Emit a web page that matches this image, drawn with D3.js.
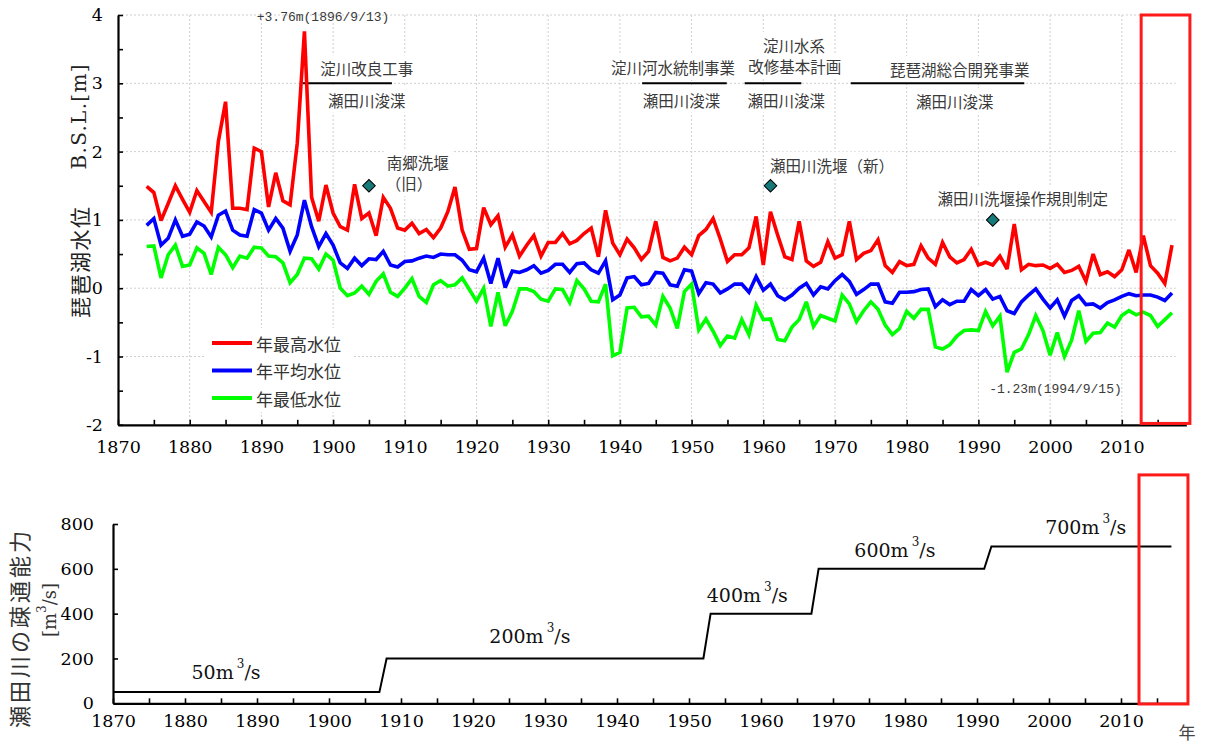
<!DOCTYPE html>
<html><head><meta charset="utf-8">
<script src="https://cdn.jsdelivr.net/npm/d3@7"></script>
<style>body{margin:0;background:#fff}svg{display:block}
.ax text{font-family:'DejaVu Serif','Liberation Serif',serif;font-size:17.5px;fill:#000}
.ax .domain{stroke:#000;stroke-width:2.2px}
.ax .tick line{stroke:#000;stroke-width:1.6px}
</style>
</head><body>
<svg id="c" width="1208" height="744"></svg>
<script>
// ---------- data ----------
const years = d3.range(1874, 2018);
const highLevel = [1.49,1.40,0.99,1.24,1.50,1.30,1.11,1.43,1.27,1.11,
2.15,2.73,1.17,1.17,1.15,2.05,2.00,1.19,1.69,1.28,
1.22,2.12,3.76,1.33,0.98,1.51,1.10,0.90,0.85,1.52,
1.02,1.10,0.77,1.33,1.17,0.88,0.85,0.95,0.80,0.86,
0.74,0.88,1.12,1.48,0.85,0.57,0.58,1.18,0.93,1.06,
0.60,0.78,0.47,0.63,0.77,0.47,0.67,0.67,0.80,0.65,
0.70,0.80,0.88,0.46,1.14,0.66,0.49,0.72,0.59,0.42,
0.54,0.98,0.45,0.40,0.44,0.60,0.49,0.77,0.86,1.02,
0.72,0.39,0.49,0.49,0.59,1.05,0.34,1.12,0.78,0.46,
0.42,0.98,0.40,0.32,0.38,0.68,0.44,0.49,0.98,0.42,
0.51,0.55,0.71,0.33,0.23,0.39,0.33,0.35,0.62,0.44,
0.35,0.67,0.46,0.37,0.42,0.57,0.34,0.38,0.34,0.47,
0.28,0.94,0.27,0.35,0.33,0.34,0.29,0.35,0.23,0.26,
0.32,0.10,0.50,0.20,0.24,0.17,0.27,0.56,0.23,0.77,
0.33,0.22,0.07,0.63];
const meanLevel = [0.92,1.02,0.63,0.73,1.00,0.76,0.79,0.97,0.91,0.75,
1.07,1.13,0.85,0.78,0.76,1.15,1.10,0.85,1.02,0.88,
0.54,0.78,1.29,0.90,0.61,0.80,0.63,0.37,0.29,0.44,
0.33,0.43,0.42,0.54,0.34,0.31,0.39,0.40,0.44,0.47,
0.45,0.50,0.49,0.49,0.41,0.27,0.24,0.44,0.07,0.44,
0.01,0.25,0.23,0.27,0.33,0.22,0.26,0.35,0.35,0.23,
0.36,0.37,0.27,0.22,0.40,-0.17,-0.10,0.15,0.17,0.05,
0.07,0.23,0.22,0.05,0.03,0.27,0.25,-0.08,0.08,0.06,
-0.07,-0.01,0.06,0.06,-0.06,0.17,-0.03,0.06,-0.11,-0.17,
-0.10,0.00,0.07,-0.10,0.02,-0.01,0.11,0.20,0.10,-0.09,
-0.02,0.06,0.06,-0.20,-0.22,-0.06,-0.06,-0.05,-0.02,-0.01,
-0.27,-0.17,-0.24,-0.19,-0.19,-0.02,-0.11,-0.02,-0.16,-0.12,
-0.33,-0.37,-0.20,-0.10,-0.01,-0.16,-0.29,-0.17,-0.41,-0.18,
-0.11,-0.24,-0.23,-0.29,-0.21,-0.17,-0.12,-0.08,-0.11,-0.10,
-0.10,-0.13,-0.18,-0.07];
const lowLevel = [0.61,0.62,0.15,0.49,0.63,0.32,0.34,0.59,0.51,0.20,
0.60,0.49,0.30,0.47,0.44,0.60,0.59,0.47,0.46,0.37,
0.08,0.20,0.44,0.43,0.28,0.50,0.41,0.00,-0.11,-0.07,
0.03,-0.09,0.10,0.21,-0.06,-0.12,0.00,0.14,-0.12,-0.21,
0.05,0.11,0.03,0.05,0.15,-0.02,-0.19,0.00,-0.56,-0.06,
-0.55,-0.34,-0.01,-0.01,-0.05,-0.16,-0.19,-0.01,-0.02,-0.21,
0.11,-0.01,-0.19,-0.20,0.06,-0.99,-0.94,-0.29,-0.28,-0.42,
-0.41,-0.54,-0.12,-0.29,-0.59,-0.05,0.06,-0.61,-0.45,-0.63,
-0.84,-0.70,-0.73,-0.46,-0.68,-0.25,-0.46,-0.45,-0.75,-0.77,
-0.57,-0.46,-0.20,-0.56,-0.40,-0.44,-0.48,-0.10,-0.23,-0.49,
-0.33,-0.20,-0.31,-0.54,-0.68,-0.59,-0.34,-0.44,-0.31,-0.31,
-0.86,-0.89,-0.83,-0.70,-0.62,-0.61,-0.62,-0.34,-0.55,-0.41,
-1.23,-0.94,-0.89,-0.68,-0.40,-0.62,-0.98,-0.65,-1.00,-0.76,
-0.33,-0.78,-0.66,-0.65,-0.51,-0.57,-0.40,-0.33,-0.39,-0.35,
-0.40,-0.56,-0.46,-0.36];
const seriesNames = ["年最高水位", "年平均水位", "年最低水位"];
const seriesColors = ["#ff0000", "#0000ff", "#00ff00"];

const capYears  = [1870, 1907, 1908, 1952, 1953, 1967, 1968, 1991, 1992, 2017];
const capValues = [50, 50, 200, 200, 400, 400, 600, 600, 700, 700];
const capLabelValues = [50, 200, 400, 600, 700];

const levelTicks = [-2, -1, 0, 1, 2, 3, 4];
const capTicks = [0, 200, 400, 600, 800];

// annotations (anchor in data units)
const capLabelPos = [[1885.7, 140], [1927.9, 300], [1958.1, 483], [1978.6, 684], [2005.1, 787]];
const notes = [
 {t:"淀川改良工事", yr:1904.7, v:3.22},
 {t:"瀬田川浚渫", yr:1904.7, v:2.76},
 {t:"淀川河水統制事業", yr:1947.4, v:3.24},
 {t:"瀬田川浚渫", yr:1948.6, v:2.76},
 {t:"淀川水系", yr:1964.3, v:3.56},
 {t:"改修基本計画", yr:1964.4, v:3.25},
 {t:"瀬田川浚渫", yr:1963.2, v:2.76},
 {t:"琵琶湖総合開発事業", yr:1987.4, v:3.21},
 {t:"瀬田川浚渫", yr:1986.7, v:2.74},
 {t:"南郷洗堰", yr:1911.8, v:1.85},
 {t:"（旧）", yr:1910.6, v:1.54},
 {t:"瀬田川洗堰（新）", yr:1969.6, v:1.81},
 {t:"瀬田川洗堰操作規則制定", yr:1996.2, v:1.32}
];
const projectSpans = [[1895.8, 1908.2], [1943.1, 1954.9], [1957.4, 1965.3], [1972.2, 1996.4]];
const weirs = [[1905, 1.5], [1961, 1.5], [1992, 1.0]];
const extremes = [{t:"+3.76m(1896/9/13)", yr:1898.6, v:3.97}, {t:"-1.23m(1994/9/15)", yr:2000.75, v:-1.49}];

// ---------- drawing ----------
const serif = "'DejaVu Serif','Liberation Serif',serif";
const jp = "'Noto Sans CJK JP','Noto Sans CJK SC',sans-serif";
const mono = "'Liberation Mono','DejaVu Sans Mono',monospace";
const svg = d3.select("#c");

const x = d3.scaleLinear().domain([1870, 2019]).range([118, 118 + 149 * 7.17]);
const y = d3.scaleLinear().domain([-2, 4]).range([424.8, 15]);

// grid
const grid = svg.append("g").attr("stroke", "#cfcfcf").attr("stroke-width", 1).attr("stroke-dasharray", "2,2");
grid.selectAll("line.h").data(levelTicks.filter(d => d > -2)).join("line")
  .attr("x1", x(1870)).attr("x2", x(2017.5)).attr("y1", d => y(d)).attr("y2", d => y(d));
grid.selectAll("line.v").data(d3.range(1880, 2011, 10)).join("line")
  .attr("x1", d => x(d)).attr("x2", d => x(d)).attr("y1", y(4)).attr("y2", y(-2));

// annotation backgrounds & texts
const ann = svg.append("g");
const noteTexts = ann.selectAll("text.n").data(notes).join("text")
  .attr("x", d => x(d.yr)).attr("y", d => y(d.v))
  .attr("text-anchor", "middle").attr("dominant-baseline", "central")
  .attr("font-family", jp).attr("font-size", 15.5).attr("fill", "#3a3a3a")
  .text(d => d.t);
noteTexts.each(function() {
  const b = this.getBBox();
  ann.insert("rect", "text").attr("x", b.x - 3).attr("y", b.y - 2)
    .attr("width", b.width + 6).attr("height", b.height + 4).attr("fill", "#fff");
});
ann.selectAll("line.s").data(projectSpans).join("line")
  .attr("x1", d => x(d[0])).attr("x2", d => x(d[1])).attr("y1", y(3)).attr("y2", y(3))
  .attr("stroke", "#000").attr("stroke-width", 2);
ann.selectAll("text.e").data(extremes).join("text")
  .attr("x", d => x(d.yr)).attr("y", d => y(d.v))
  .attr("text-anchor", "middle").attr("dominant-baseline", "central")
  .attr("font-family", mono).attr("font-size", 13).attr("fill", "#3a3a3a")
  .text(d => d.t);

// series lines
const seriesData = [highLevel, meanLevel, lowLevel];
const line = d3.line().x((d, i) => x(years[i])).y(d => y(d));
svg.append("g").selectAll("path").data(seriesData).join("path")
  .attr("d", d => line(d)).attr("fill", "none")
  .attr("stroke", (d, i) => seriesColors[i]).attr("stroke-width", 3.6)
  .attr("stroke-linejoin", "miter").attr("stroke-miterlimit", 3);

// weir markers
svg.append("g").selectAll("path").data(weirs).join("path")
  .attr("d", d3.symbol().type(d3.symbolSquare).size(80))
  .attr("transform", d => `translate(${x(d[0])},${y(d[1])}) rotate(45)`)
  .attr("fill", "#177a7a").attr("stroke", "#000").attr("stroke-width", 1);

// axes top
svg.append("g").attr("class", "ax").attr("transform", `translate(0,${y(-2)})`)
  .call(d3.axisBottom(x).tickValues(d3.range(1870, 2016, 5)).tickSizeInner(-5).tickSizeOuter(0).tickPadding(16)
    .tickFormat(d => d % 10 === 0 ? d : ""));
svg.append("g").attr("class", "ax").attr("transform", `translate(${x(1870)},0)`)
  .call(d3.axisLeft(y).tickValues(d3.range(-2, 4.01, 0.5)).tickSizeInner(-5).tickSizeOuter(0).tickPadding(15)
    .tickFormat(d => Number.isInteger(d) ? d : ""));

// y title top
const t1 = svg.append("text").attr("transform", `translate(79,318) rotate(-90)`)
  .attr("dominant-baseline", "central").attr("fill", "#222");
t1.append("tspan").attr("font-family", jp).attr("font-size", 21).attr("letter-spacing", 1.5).text("琵琶湖水位");
t1.append("tspan").attr("dx", 36).attr("font-family", serif).attr("font-size", 20).attr("letter-spacing", 1.3).text("B.S.L.[m]");

// legend
const lg = svg.append("g");
lg.append("rect").attr("x", 206).attr("y", 328).attr("width", 146).attr("height", 84).attr("fill", "#fff");
seriesNames.forEach((n, i) => {
  const yy = 343 + i * 27.5;
  lg.append("line").attr("x1", 212).attr("x2", 252).attr("y1", yy).attr("y2", yy)
    .attr("stroke", seriesColors[i]).attr("stroke-width", 4);
  lg.append("text").attr("x", 256).attr("y", yy).attr("dominant-baseline", "central")
    .attr("font-family", jp).attr("font-size", 17).attr("fill", "#333").text(n);
});

// red highlight top
svg.append("rect").attr("x", x(2012.7)).attr("y", y(4))
  .attr("width", x(2019.5) - x(2012.7)).attr("height", y(-1.98) - y(4))
  .attr("fill", "none").attr("stroke", "#ff1a1a").attr("stroke-width", 3);

// ---------- bottom chart ----------
const xb = d3.scaleLinear().domain([1870, 2019]).range([113, 113 + 149 * 7.2]);
const yb = d3.scaleLinear().domain([0, 800]).range([703.3, 524]);

const capLine = d3.line().x((d, i) => xb(capYears[i])).y(d => yb(d));
svg.append("path").attr("d", capLine(capValues)).attr("fill", "none")
  .attr("stroke", "#000").attr("stroke-width", 2);

capLabelValues.forEach((v, i) => {
  const t = svg.append("text").attr("x", xb(capLabelPos[i][0])).attr("y", yb(capLabelPos[i][1]))
    .attr("text-anchor", "middle").attr("dominant-baseline", "central")
    .attr("font-family", serif).attr("font-size", 19).attr("fill", "#111");
  t.append("tspan").text(v + "m");
  t.append("tspan").attr("dx", 3).attr("dy", -8).attr("font-size", 12).text("3");
  t.append("tspan").attr("dy", 8).text("/s");
});

svg.append("g").attr("class", "ax").attr("transform", `translate(0,${yb(0)})`)
  .call(d3.axisBottom(xb).tickValues(d3.range(1870, 2016, 5)).tickSizeInner(-5).tickSizeOuter(0).tickPadding(11)
    .tickFormat(d => d % 10 === 0 ? d : ""));
svg.append("g").attr("class", "ax").attr("transform", `translate(${xb(1870)},0)`)
  .call(d3.axisLeft(yb).tickValues(capTicks).tickSizeInner(-5).tickSizeOuter(0).tickPadding(19));

svg.append("text").attr("transform", `translate(18,628) rotate(-90)`)
  .attr("text-anchor", "middle").attr("dominant-baseline", "central")
  .attr("font-family", jp).attr("font-size", 22).attr("letter-spacing", 3).attr("fill", "#333")
  .text("瀬田川の疎通能力");
const t2 = svg.append("text").attr("transform", `translate(49,610) rotate(-90)`)
  .attr("text-anchor", "middle").attr("dominant-baseline", "central")
  .attr("font-family", serif).attr("font-size", 18).attr("fill", "#333");
t2.append("tspan").text("[m");
t2.append("tspan").attr("dy", -7).attr("font-size", 12).text("3");
t2.append("tspan").attr("dy", 7).text("/s]");

svg.append("text").attr("x", 1187).attr("y", 731).attr("text-anchor", "middle").attr("dominant-baseline", "central")
  .attr("font-family", jp).attr("font-size", 17).attr("fill", "#444").text("年");

svg.append("rect").attr("x", xb(2012.5)).attr("y", yb(1019))
  .attr("width", xb(2019.3) - xb(2012.5)).attr("height", yb(-3) - yb(1019))
  .attr("fill", "none").attr("stroke", "#ff1a1a").attr("stroke-width", 3);
</script>
</body></html>
